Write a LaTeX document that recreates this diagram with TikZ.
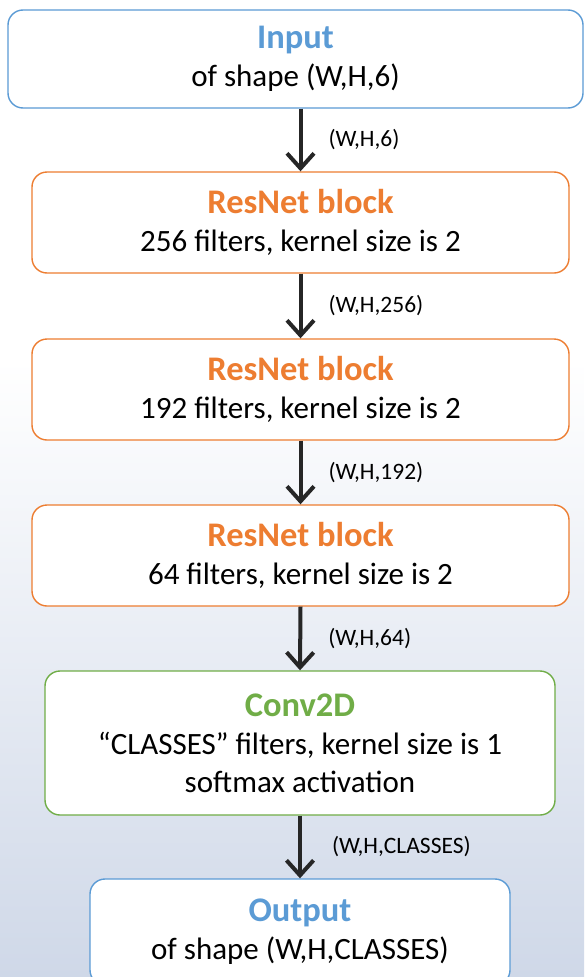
\documentclass[tikz,border=0pt]{standalone}
\usepackage{fontspec}
\setmainfont{Carlito}
\usetikzlibrary{arrows.meta}
\definecolor{cblue}{HTML}{5B9BD5}
\definecolor{corange}{HTML}{ED7D31}
\definecolor{cgreen}{HTML}{70AD47}
\definecolor{bgbot}{HTML}{CFD8E8}
\definecolor{arr}{HTML}{262626}
\newcommand\ttlfont{\fontsize{34.5}{38}\selectfont\bfseries}
\begin{document}
\begin{tikzpicture}[x=1pt,y=-1pt,
  box/.style={draw, line width=1.4pt, rounded corners=15pt, fill=white, text=black,
    align=center, inner sep=0pt, font=\fontsize{31}{38}\selectfont},
  conn/.style={draw=arr, line width=4pt, -{Straight Barb[length=15pt,width=27pt,line width=4pt]}},
  lbl/.style={font=\fontsize{23.5}{26}\selectfont, inner sep=0pt, anchor=west, text=black}]
\useasboundingbox (0,0) rectangle (584,977);
\clip (0,0) rectangle (584,977);
\fill[white] (0,0) rectangle (584,361);
\shade[top color=white,bottom color=bgbot] (0,360) rectangle (584,977);

\node[box, draw=cblue, minimum width=575pt, minimum height=98pt] (in) at (295.5,59)
  {{\ttlfont\color{cblue}Input}\\of shape (W,H,6)};
\node[box, draw=corange, minimum width=537pt, minimum height=101pt] (r1) at (300.5,222.5)
  {{\ttlfont\color{corange}ResNet block}\\256 filters, kernel size is 2};
\node[box, draw=corange, minimum width=537pt, minimum height=101pt] (r2) at (300.5,389.5)
  {{\ttlfont\color{corange}ResNet block}\\192 filters, kernel size is 2};
\node[box, draw=corange, minimum width=537pt, minimum height=101pt] (r3) at (300.5,555.5)
  {{\ttlfont\color{corange}ResNet block}\\64 filters, kernel size is 2};
\node[box, draw=cgreen, minimum width=510pt, minimum height=144pt] (cv) at (300,743)
  {{\ttlfont\color{cgreen}Conv2D}\\“CLASSES” filters, kernel size is 1\\softmax activation};
\node[box, draw=cblue, minimum width=420pt, minimum height=106pt] (out) at (300,932)
  {{\ttlfont\color{cblue}Output}\\of shape (W,H,CLASSES)};

\draw[conn] (r1.north |- in.south) -- (r1.north) node[midway, lbl, xshift=26pt] {(W,H,6)};
\draw[conn] (r1.south) -- (r2.north) node[midway, lbl, xshift=26pt] {(W,H,256)};
\draw[conn] (r2.south) -- (r3.north) node[midway, lbl, xshift=26pt] {(W,H,192)};
\draw[conn] (r3.south) -- (cv.north) node[midway, lbl, xshift=26pt] {(W,H,64)};
\draw[conn] (cv.south) -- (out.north) node[midway, lbl, xshift=30pt] {(W,H,CLASSES)};
\end{tikzpicture}
\end{document}
